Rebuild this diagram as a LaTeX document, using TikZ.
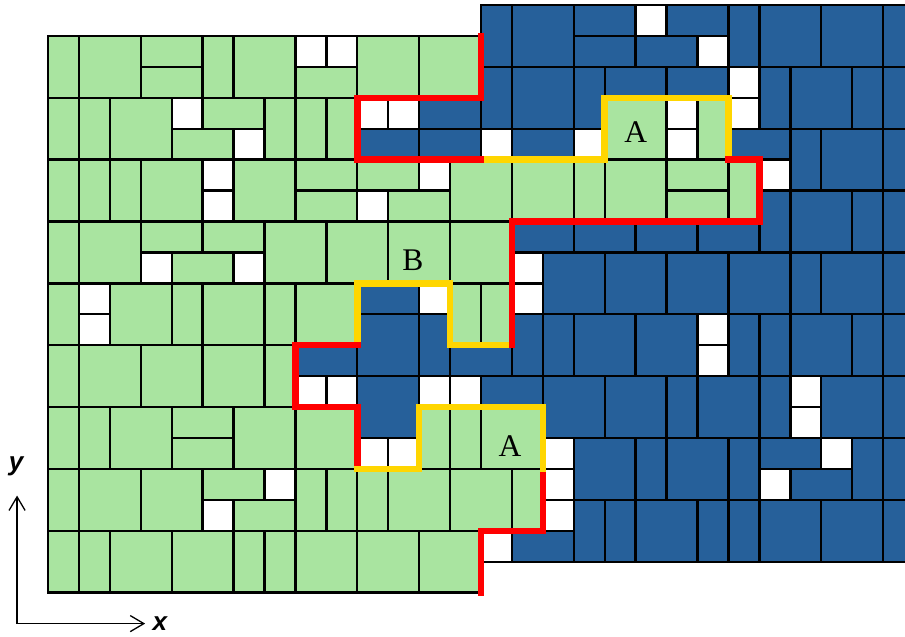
\documentclass[tikz,border=0pt]{standalone}
\usepackage{fontspec}
\setmainfont{Liberation Serif}
\newfontfamily\axisfont{Liberation Sans}
\usetikzlibrary{arrows.meta}

\definecolor{tilegreen}{RGB}{169,228,160}
\definecolor{tileblue}{RGB}{38,96,154}
\definecolor{edgered}{RGB}{255,0,0}
\definecolor{edgeyellow}{RGB}{255,214,0}

\begin{document}
\begin{tikzpicture}[
    x=0.5cm, y=-0.5cm,
    gtile/.style={draw=black, fill=tilegreen, line width=1.1pt},
    btile/.style={draw=black, fill=tileblue, line width=1.1pt},
    hole/.style={draw=black, fill=white, line width=1.1pt},
    redwall/.style={draw=edgered, line width=3pt, line cap=rect, line join=miter},
    yelwall/.style={draw=edgeyellow, line width=3pt, line cap=rect, line join=miter},
    tilelabel/.style={font=\fontsize{14.5}{17}\selectfont},
    axislabel/.style={font=\axisfont\bfseries\itshape\fontsize{12}{14}\selectfont},
    axis/.style={line width=0.6pt, -{Straight Barb[length=2.2mm, width=2.6mm]}}
]
\clip (-1.552,-0.162) rectangle (27.708,20.42);

% green phase
\foreach \i/\k/\w/\h in {
    0/1/1/2, 1/1/2/2, 3/1/2/1, 3/2/2/1, 5/1/1/2, 6/1/2/2, 8/2/2/1, 10/1/2/2, 12/1/2/2,
    0/3/1/2, 1/3/1/2, 2/3/2/2, 5/3/2/1, 4/4/2/1, 7/3/1/2, 8/3/1/2, 9/3/1/2,
    0/5/1/2, 1/5/1/2, 2/5/1/2, 3/5/2/2, 6/5/2/2, 8/5/2/1, 8/6/2/1, 10/5/2/1, 11/6/2/1,
    13/5/2/2, 15/5/2/2, 17/5/1/2, 18/5/2/2, 20/5/2/1, 20/6/2/1, 22/5/1/2,
    0/7/1/2, 1/7/2/2, 3/7/2/1, 5/7/2/1, 4/8/2/1, 7/7/2/2, 9/7/2/2, 11/7/2/2, 13/7/2/2,
    0/9/1/2, 2/9/2/2, 4/9/1/2, 5/9/2/2, 7/9/1/2, 8/9/2/2, 13/9/1/2, 14/9/1/2,
    0/11/1/2, 1/11/2/2, 3/11/2/2, 5/11/2/2, 7/11/1/2,
    0/13/1/2, 1/13/1/2, 2/13/2/2, 4/13/2/1, 4/14/2/1, 6/13/2/2, 8/13/2/2,
    12/13/1/2, 13/13/1/2, 14/13/2/2,
    0/15/1/2, 1/15/2/2, 3/15/2/2, 5/15/2/1, 6/16/2/1, 8/15/1/2, 9/15/1/2, 10/15/1/2,
    11/15/2/2, 13/15/2/2, 15/15/1/2,
    0/17/1/2, 1/17/1/2, 2/17/2/2, 4/17/2/2, 6/17/1/2, 7/17/1/2, 8/17/2/2, 10/17/2/2, 12/17/2/2,
    18/3/2/2, 21/3/1/2}
  \draw[gtile] (\i,\k) rectangle ++(\w,\h);

% blue phase
\foreach \i/\k/\w/\h in {
    14/0/1/2, 15/0/2/2, 17/0/2/1, 17/1/2/1, 20/0/2/1, 19/1/2/1, 22/0/1/2, 23/0/2/2, 25/0/2/2, 27/0/2/2,
    14/2/1/2, 15/2/2/2, 17/2/1/2, 18/2/2/1, 20/2/2/1, 23/2/1/2, 24/2/2/2, 26/2/1/2, 27/2/2/2,
    10/4/2/1, 12/3/2/1, 12/4/2/1, 15/4/2/1,
    22/4/2/1, 24/4/1/2, 25/4/2/2, 27/4/2/2,
    23/6/1/2, 24/6/2/2, 26/6/1/2, 27/6/2/2,
    15/7/2/1, 17/7/2/1, 19/7/2/1, 21/7/2/1,
    16/8/2/2, 18/8/2/2, 20/8/2/2, 22/8/2/2, 24/8/1/2, 25/8/2/2, 27/8/2/2,
    10/9/2/1,
    10/10/2/2, 12/10/1/2, 13/11/2/1, 15/10/1/2, 16/10/1/2, 17/10/2/2, 19/10/2/2,
    22/10/1/2, 23/10/1/2, 24/10/2/2, 26/10/1/2, 27/10/2/2,
    8/11/2/1,
    10/12/2/2, 14/12/2/1, 16/12/2/2, 18/12/2/2, 20/12/1/2, 21/12/2/2, 23/12/1/2, 25/12/2/2, 27/12/2/2,
    17/14/2/2, 19/14/1/2, 20/14/2/2, 22/14/1/2, 23/14/2/1, 24/15/2/1, 26/14/1/2, 27/14/2/2,
    15/17/2/1, 17/16/1/2, 18/16/1/2, 19/16/2/2, 21/16/1/2, 22/16/1/2, 23/16/2/2, 25/16/2/2, 27/16/2/2}
  \draw[btile] (\i,\k) rectangle ++(\w,\h);

% empty sites
\foreach \i/\k in {
    8/1, 9/1, 4/3, 6/4, 5/5, 5/6, 12/5, 10/6, 3/8, 6/8, 1/9, 1/10, 7/15, 5/16, 20/3, 20/4,
    19/0, 21/1, 22/2, 22/3, 10/3, 11/3, 14/4, 17/4, 23/5, 15/8, 15/9, 12/9, 21/10, 21/11,
    8/12, 9/12, 12/12, 13/12, 24/12, 24/13, 10/14, 11/14, 16/14, 16/15, 16/16, 25/14, 23/15, 14/17}
  \draw[hole] (\i,\k) rectangle ++(1,1);

% domain wall
\draw[yelwall] (14,5) -- (18,5) -- (18,3) -- (22,3) -- (22,5);
\draw[yelwall] (15,11) -- (13,11) -- (13,9) -- (10,9) -- (10,11);
\draw[redwall] (14,1) -- (14,3) -- (10,3) -- (10,5) -- (14,5);
\draw[redwall] (22,5) -- (23,5) -- (23,7) -- (15,7) -- (15,11);
\draw[redwall] (10,11) -- (8,11) -- (8,13) -- (10,13) -- (10,15);
\draw[redwall] (16,15) -- (16,17) -- (14,17) -- (14,19);
\draw[yelwall] (10,15) -- (12,15) -- (12,13) -- (16,13) -- (16,15);

\node[tilelabel] (labelA1) at (19,4.1) {A};
\node[tilelabel] (labelB) at (11.8,8.25) {B};
\node[tilelabel] (labelA2) at (14.94,14.27) {A};

% axes
\coordinate (origin) at (-1,20);
\coordinate (ytip) at (-1,15.86);
\coordinate (xtip) at (3.14,20);
\draw[axis] (origin) -- (ytip);
\draw[axis] (origin) -- (xtip);
\node[axislabel] (ylabel) at (-1.03,14.9) {y};
\node[axislabel] (xlabel) at (3.62,20.0) {x};

\end{tikzpicture}
\end{document}
